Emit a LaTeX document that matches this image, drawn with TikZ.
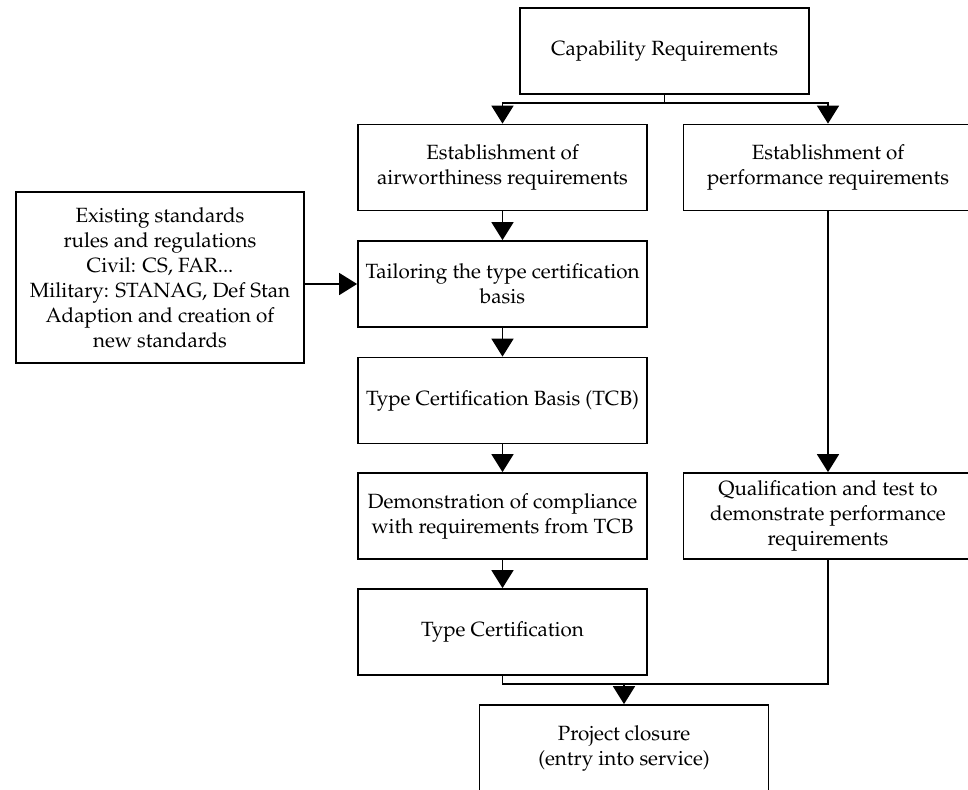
\documentclass[tikz,border=0pt]{standalone}
\usepackage[T1]{fontenc}
\usepackage{mathpazo}
\usetikzlibrary{arrows.meta}

\begin{document}
\begin{tikzpicture}[x=0.5pt,y=-0.5pt,
    box/.style={draw,line width=0.9pt,minimum width=144.5pt,minimum height=43pt,
      align=center,inner sep=2pt,font={\fontsize{10.3}{12.5}\selectfont}},
    flow/.style={line width=0.9pt,-{Triangle[width=11pt,length=9pt]}}]
  \useasboundingbox (0,0) rectangle (968,789);
  \clip (0,0) rectangle (968,789);

  % boxes
  \node[box] (cap) at (664.5,51) {Capability Requirements};
  \node[box] (airw) at (502.5,167.5) {Establishment of\\ airworthiness requirements};
  \node[box] (perf) at (828,167.5) {Establishment of\\ performance requirements};
  \node[box,minimum width=144pt,minimum height=85.5pt] (exist) at (160,277.5) {Existing standards\\ rules and regulations\\ Civil: CS, FAR...\\ Military: STANAG, Def Stan\\ Adaption and creation of\\ new standards};
  \node[box] (tailor) at (502.5,284) {Tailoring the type certification\\ basis};
  \node[box] (tcb) at (502.5,400.5) {Type Certification Basis (TCB)};
  \node[box] (demo) at (502.5,516) {Demonstration of compliance\\ with requirements from TCB};
  \node[box] (qual) at (828,516) {Qualification and test to\\ demonstrate performance\\ requirements};
  \node[box] (tc) at (502.5,632) {Type Certification};
  \node[box] (closure) at (624,748) {Project closure\\ (entry into service)};

  % connectors
  \coordinate (merge) at (624,683);
  \draw[flow] (cap.south) -- ++(0,8) -| (airw.north);
  \draw[flow] (cap.south) -- ++(0,8) -| (perf.north);
  \draw[flow] (airw) -- (tailor);
  \draw[flow] (exist.east |- tailor) -- (tailor.west);
  \draw[flow] (tailor) -- (tcb);
  \draw[flow] (tcb) -- (demo);
  \draw[flow] (demo) -- (tc);
  \draw[flow] (perf) -- (qual);
  \draw[line width=0.9pt] (tc.south) -- ++(0,8) -| (qual.south);
  \draw[flow] (merge) -- (closure.north);
\end{tikzpicture}
\end{document}
